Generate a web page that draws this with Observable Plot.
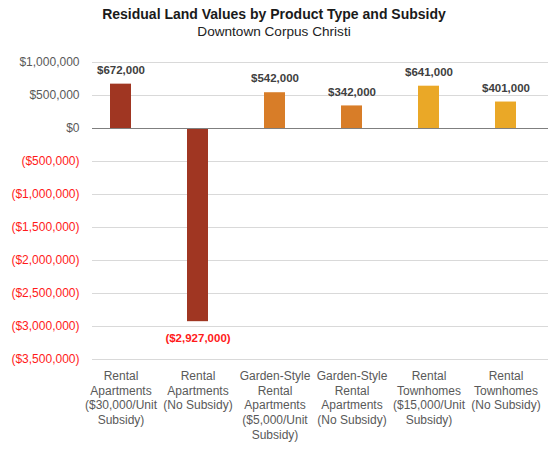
<!DOCTYPE html>
<html>
<head>
<meta charset="utf-8">
<script src="https://cdn.jsdelivr.net/npm/d3@7"></script>
<script src="https://cdn.jsdelivr.net/npm/@observablehq/plot@0.6"></script>
<style>
  body { margin: 0; background: #fff; font-family: "Liberation Sans", Arial, sans-serif; }
  #wrap { width: 548px; }
  .title { text-align: center; font-weight: bold; font-size: 14px; line-height: 18px; padding-top: 5px; color: #1a1a1a; }
  .subtitle { text-align: center; font-size: 13.6px; line-height: 18px; color: #222; }
</style>
</head>
<body>
<div id="wrap">
  <div class="title">Residual Land Values by Product Type and Subsidy</div>
  <div class="subtitle">Downtown Corpus Christi</div>
  <div id="chart"></div>
</div>
<script>
const categories = [
  "Rental\nApartments\n($30,000/Unit\nSubsidy)",
  "Rental\nApartments\n(No Subsidy)",
  "Garden-Style\nRental\nApartments\n($5,000/Unit\nSubsidy)",
  "Garden-Style\nRental\nApartments\n(No Subsidy)",
  "Rental\nTownhomes\n($15,000/Unit\nSubsidy)",
  "Rental\nTownhomes\n(No Subsidy)"
];
const values = [672000, -2927000, 542000, 342000, 641000, 401000];
const productTypes = ["Rental Apartments", "Rental Apartments", "Garden-Style", "Garden-Style", "Townhomes", "Townhomes"];
const yTicks = [1000000, 500000, 0, -500000, -1000000, -1500000, -2000000, -2500000, -3000000, -3500000];

const data = categories.map((c, i) => ({category: c, value: values[i], type: productTypes[i]}));
const fmt = d3.format(",");
const money = v => v < 0 ? `($${fmt(-v)})` : `$${fmt(v)}`;

const chart = Plot.plot({
  width: 548,
  height: 410,
  marginTop: 21,
  marginBottom: 92,
  marginLeft: 82,
  marginRight: 4,
  style: {fontFamily: "'Liberation Sans', Arial, sans-serif", fontSize: "12px", background: "#fff"},
  x: {domain: categories, paddingInner: 0.73, paddingOuter: 0.365, label: null},
  y: {domain: [-3500000, 1000000], label: null},
  color: {domain: ["Rental Apartments", "Garden-Style", "Townhomes"], range: ["#a03622", "#d87d28", "#eaa827"]},
  marks: [
    Plot.ruleY(yTicks.filter(t => t !== 0), {stroke: "#d9d9d9", strokeWidth: 1, insetLeft: 10, insetRight: -4}),
    Plot.barY(data, {x: "category", y: "value", fill: "type"}),
    Plot.ruleY([0], {stroke: "#7f7f7f", strokeWidth: 1, insetLeft: 10, insetRight: -4}),
    Plot.axisY(yTicks.filter(t => t >= 0), {tickSize: 0, tickPadding: 3, tickFormat: money, fill: "#595959", fontSize: 12}),
    Plot.axisY(yTicks.filter(t => t < 0), {tickSize: 0, tickPadding: 3, tickFormat: money, fill: "#ff1a1a", fontSize: 12}),
    Plot.axisX({tickSize: 0, tickPadding: 10, fill: "#595959", fontSize: 12, lineHeight: 1.23, label: null}),
    Plot.text(data.filter(d => d.value >= 0), {x: "category", y: "value", text: d => money(d.value), dy: -14, fill: "#404040", fontWeight: "bold", fontSize: 11.5}),
    Plot.text(data.filter(d => d.value < 0), {x: "category", y: "value", text: d => money(d.value), dy: 17, fill: "#ff1a1a", fontWeight: "bold", fontSize: 11.5})
  ]
});
document.getElementById("chart").appendChild(chart);
</script>
</body>
</html>
